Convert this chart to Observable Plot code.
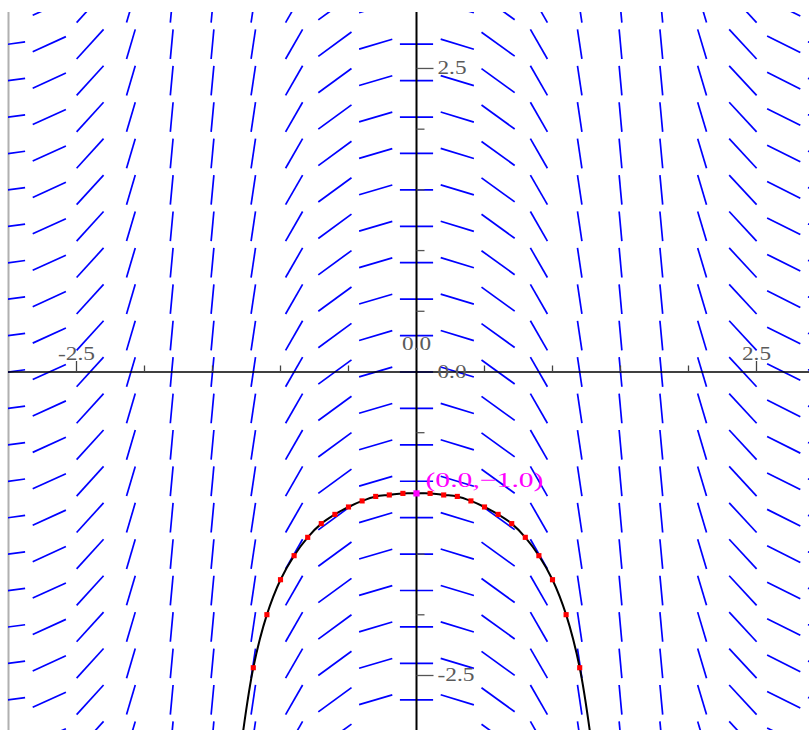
<!DOCTYPE html>
<html><head><meta charset="utf-8">
<script src="https://cdn.jsdelivr.net/npm/d3@7"></script>
<script src="https://cdn.jsdelivr.net/npm/@observablehq/plot@0.6"></script>
<style>body{margin:0;background:#fff}</style>
</head><body><div id="chart"></div>
<script>
// Slope-field grid (columns / rows) and slope read per column
const xCols = [-3.0,-2.7,-2.4,-2.1,-1.8,-1.5,-1.2,-0.9,-0.6,-0.3,0,0.3,0.6,0.9,1.2,1.5,1.8,2.1,2.4,2.7,3.0];
const yRows = [-3.0,-2.7,-2.4,-2.1,-1.8,-1.5,-1.2,-0.9,-0.6,-0.3,0,0.3,0.6,0.9,1.2,1.5,1.8,2.1,2.4,2.7,3.0];
const colSlopes = [0.15,0.51,1.23,3.8,12,12,7.5,1.95,0.82,0.33,0,-0.34,-0.81,-1.95,-7.5,-12.2,-12,-3.75,-1.21,-0.56,-0.15];

// Euler points (red) and initial point (magenta)
const eulerX = [-1.2,-1.1,-1.0,-0.9,-0.8,-0.7,-0.6,-0.5,-0.4,-0.3,-0.2,-0.1,0.1,0.2,0.3,0.4,0.5,0.6,0.7,0.8,0.9,1.0,1.1,1.2];
const eulerY = [-2.436,-1.999,-1.711,-1.513,-1.362,-1.249,-1.173,-1.112,-1.062,-1.025,-1.013,-1.0,-1.0,-1.013,-1.025,-1.062,-1.112,-1.173,-1.249,-1.362,-1.513,-1.711,-1.999,-2.436];
const initX = [0.0];
const initY = [-1.0];

// Solution curve (black)
const curveX = [-1.29,-1.2,-1.1,-1.0,-0.9,-0.8,-0.7,-0.6,-0.5,-0.4,-0.3,-0.2,-0.1,0,0.1,0.2,0.3,0.4,0.5,0.6,0.7,0.8,0.9,1.0,1.1,1.2,1.29];
const curveY = [-3.085,-2.436,-1.999,-1.711,-1.513,-1.362,-1.249,-1.173,-1.112,-1.062,-1.025,-1.013,-1.0,-1.0,-1.0,-1.013,-1.025,-1.062,-1.112,-1.173,-1.249,-1.362,-1.513,-1.711,-1.999,-2.436,-3.085];

// Axis ticks and labels
const xTicks = [-2.5,-2,-1.5,-1,-0.5,0.5,1,1.5,2,2.5];
const yTicks = [-2.5,-2,-1.5,-1,-0.5,0.5,1,1.5,2,2.5];
const majorTicks = [-2.5,2.5];
const xLabelVals = [-2.5,2.5];
const xLabelText = ["-2.5","2.5"];
const xOriginLabel = ["0.0"];
const yLabelVals = [-2.5,0,2.5];
const yLabelText = ["-2.5","0.0","2.5"];
const pointLabel = ["(0.0,\u22121.0)"];

const W = 809, H = 730, mL = 8, mT = 12;
const xDomain = [-3, 2.8897];
const yDomain = [-2.953, 2.961];
const sx = (W - mL) / (xDomain[1] - xDomain[0]);
const sy = (H - mT) / (yDomain[1] - yDomain[0]);

const half = 0.122;
const field = xCols.flatMap((x, i) => yRows.map(y => {
  const m = colSlopes[i];
  const t = half / Math.max(1, Math.abs(m));
  return {x1: x - t, x2: x + t, y1: y - t * m, y2: y + t * m};
}));
const euler = eulerX.map((x, i) => ({x, y: eulerY[i]}));
const curve = curveX.map((x, i) => ({x, y: curveY[i]}));
const init = initX.map((x, i) => ({x, y: initY[i]}));

const xTickData = xTicks.map(t => ({t, len: (majorTicks.includes(t) ? 11 : 6.5) / sy}));
const yTickData = yTicks.map(t => ({t, len: (majorTicks.includes(t) ? 17 : 8) / sx}));

const labelStyle = {fill: "#5a5a5a", fontFamily: "Liberation Serif", fontSize: 18};

const plot = Plot.plot({
  width: W, height: H,
  marginLeft: mL, marginTop: mT, marginRight: 0, marginBottom: 0,
  x: {domain: xDomain, axis: null},
  y: {domain: yDomain, axis: null},
  marks: [
    Plot.ruleX([-3], {stroke: "#b0b0b0", strokeWidth: 2}),
    Plot.link(field, {x1: "x1", y1: "y1", x2: "x2", y2: "y2", stroke: "#0000ff", strokeWidth: 1.7, clip: true}),
    Plot.ruleY([0], {stroke: "black", strokeWidth: 1.6}),
    Plot.ruleX([0], {stroke: "black", strokeWidth: 2}),
    Plot.link(xTickData, {x1: "t", x2: "t", y1: () => 0, y2: "len", stroke: "#444", strokeWidth: 1.3}),
    Plot.link(yTickData, {y1: "t", y2: "t", x1: () => 0, x2: "len", stroke: "#555", strokeWidth: 1.3}),
    Plot.text(xLabelVals, {x: d => d, y: () => 0, text: (d, i) => xLabelText[i], dy: -18, ...labelStyle}),
    Plot.text(xOriginLabel, {x: () => 0, y: () => 0, text: d => d, dy: -28, ...labelStyle}),
    Plot.text(yLabelVals, {x: () => 0, y: d => d, text: (d, i) => yLabelText[i], dx: 21, textAnchor: "start", ...labelStyle}),
    Plot.line(curve, {x: "x", y: "y", stroke: "black", strokeWidth: 2, curve: "catmull-rom", clip: true}),
    Plot.dot(euler, {x: "x", y: "y", symbol: "square", fill: "#ff0000", r: 2.9}),
    Plot.dot(init, {x: "x", y: "y", symbol: "square", fill: "#ff00ff", r: 3.5}),
    Plot.text(init, {x: "x", y: "y", text: (d, i) => pointLabel[i], dx: 9, dy: -13, textAnchor: "start", fill: "#ff00ff", fontFamily: "Liberation Serif", fontSize: 21})
  ]
});
document.getElementById("chart").appendChild(plot);

const widths = {"2.5": 29, "-2.5": 37, "0.0": 29, "(0.0,\u22121.0)": 118};
d3.select(plot).selectAll("text").each(function() {
  const w = widths[this.textContent];
  if (w) d3.select(this).attr("textLength", w).attr("lengthAdjust", "spacingAndGlyphs");
});
</script></body></html>
